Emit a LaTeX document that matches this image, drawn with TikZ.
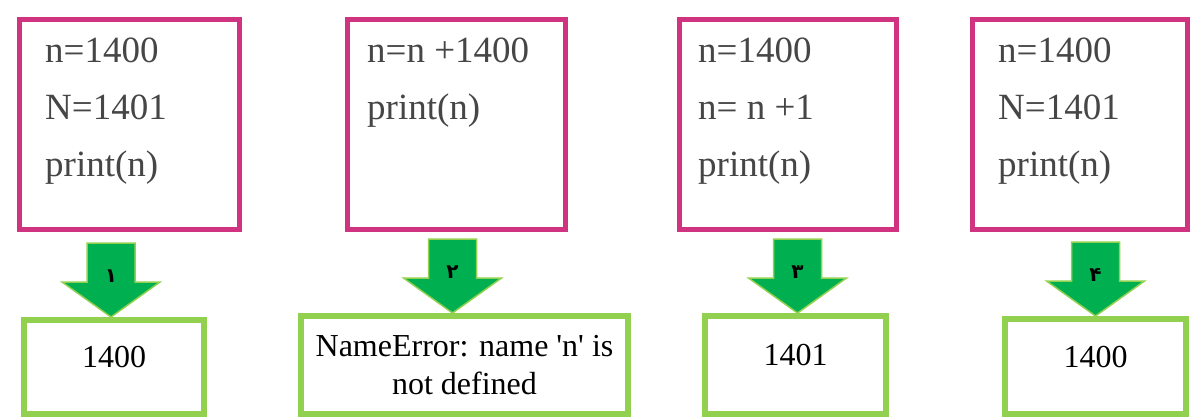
\documentclass[tikz,border=0pt]{standalone}
\usepackage{fontspec}
\setmainfont{Liberation Serif}[Ligatures=TeXOff]
\newfontfamily\timesfont{Liberation Serif}[Ligatures=TeXOff]
\newfontfamily\farsi[Script=Arabic]{DejaVu Sans}
\usetikzlibrary{calc}
\definecolor{codepink}{RGB}{208,52,128}
\definecolor{codegray}{RGB}{70,70,70}
\definecolor{outgreen}{RGB}{146,208,80}
\definecolor{arrowgreen}{RGB}{0,176,80}
\begin{document}
\begin{tikzpicture}
[x=1pt,y=-1pt,
codebox/.style={rectangle,draw=codepink,line width=5pt,fill=white,minimum height=210pt},
code/.style={anchor=north west,inner sep=0pt,align=left,text=codegray,font=\timesfont\fontsize{37}{57}\selectfont},
outbox/.style={rectangle,draw=outgreen,line width=6pt,fill=white,align=center,font=\timesfont\fontsize{32}{38}\selectfont},
downarrow/.style={fill=arrowgreen,draw=outgreen,line width=1.5pt,line join=miter},
num/.style={inner sep=0pt,font=\farsi\bfseries\fontsize{20}{24}\selectfont}]
\useasboundingbox (0,0) rectangle (1190,417);

% code boxes
\node[codebox,minimum width=220pt] (c1) at (129.5,124.5) {};
\node[codebox,minimum width=218pt] (c2) at (456.5,124.5) {};
\node[codebox,minimum width=217pt] (c3) at (788,124.5) {};
\node[codebox,minimum width=215pt] (c4) at (1080,124.5) {};
\node[code] (t1) at (45,38) {n=1400\\N=1401\\print(n)};
\node[code] (t2) at (367,38) {n=n +1400\\print(n)};
\node[code] (t3) at (698,38) {n=1400\\n= n +1\\print(n)};
\node[code] (t4) at (998,38) {n=1400\\N=1401\\print(n)};

% outputs
\node[outbox,minimum width=180pt,minimum height=94pt,text depth=20pt] (g1) at (114,367) {1400};
\node[outbox,minimum width=327pt,minimum height=98pt] (g2) at (464.5,365) {NameError: name 'n' is\\not defined};
\node[outbox,minimum width=181pt,minimum height=98pt,text depth=20pt] (g3) at (795.5,365) {1401};
\node[outbox,minimum width=181pt,minimum height=95pt,text depth=20pt] (g4) at (1095.5,366.5) {1400};

\foreach \i/\dx/\d in {1/-3/۱,2/-12/۲,3/2/۳,4/0/۴}
{
  \draw[downarrow] ($(g\i.north)+(\dx,0)$) -- ++(49,-35) -- ++(-25,0) -- ++(0,-39) -- ++(-48,0) -- ++(0,39) -- ++(-25,0) -- cycle;
  \node[num] (n\i) at ($(g\i.north)+(\dx,-41)$) {\d};
}
\end{tikzpicture}
\end{document}
